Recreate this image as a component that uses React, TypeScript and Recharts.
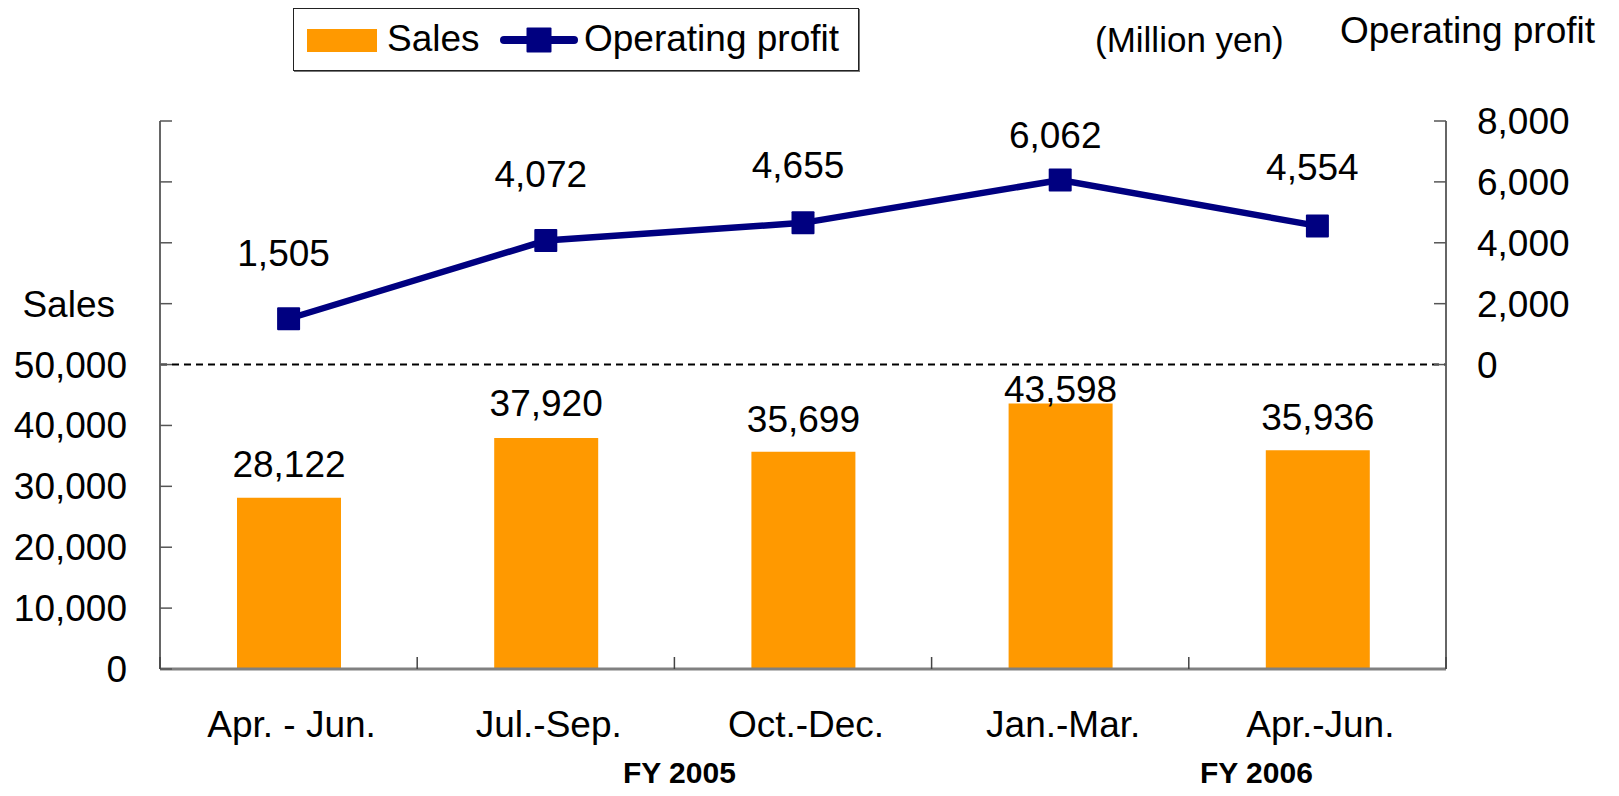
import React from 'react';
import {
  ComposedChart,
  Bar,
  Line,
  XAxis,
  YAxis,
  ReferenceLine,
  LabelList,
  Legend,
  Customized,
} from 'recharts';

// ---- data ----
const quarters = ['Apr. - Jun.', 'Jul.-Sep.', 'Oct.-Dec.', 'Jan.-Mar.', 'Apr.-Jun.'];
const sales = [28122, 37920, 35699, 43598, 35936];
const operatingProfit = [1505, 4072, 4655, 6062, 4554];
const salesTicks = [0, 10000, 20000, 30000, 40000, 50000, 60000, 70000, 80000, 90000];
const profitTicks = [0, 2000, 4000, 6000, 8000];
const fiscalYears = ['FY 2005', 'FY 2006'];

const data = quarters.map((q, i) => ({ quarter: q, sales: sales[i], profit: operatingProfit[i] }));

// ---- style ----
const FONT = '"Liberation Sans", Arial, sans-serif';
const ORANGE = '#FF9900';
const NAVY = '#000080';
const AXIS = '#666666';
const X_TICK_MARGIN = 42;
const salesLabelGap = [21, 22, 20, 2, 20];
const profitLabelGap = [53, 54, 45, 32, 46];

const fmt = (v: number) => v.toLocaleString('en-US');

const LeftTick = (props: any) => {
  const { x, y, payload } = props;
  const v = payload.value as number;
  if (v > 60000) return <g />;
  if (v === 60000) {
    return (
      <text x={x - 12} y={y} dy={13} textAnchor="end" fontSize={37} fill="#000" fontFamily={FONT}>
        Sales
      </text>
    );
  }
  return (
    <text x={x} y={y} dy={13} textAnchor="end" fontSize={37} fill="#000" fontFamily={FONT}>
      {fmt(v)}
    </text>
  );
};

const RightTick = (props: any) => {
  const { x, y, payload } = props;
  return (
    <text x={x} y={y} dy={13} textAnchor="start" fontSize={37} fill="#000" fontFamily={FONT}>
      {fmt(payload.value)}
    </text>
  );
};

const XTick = (props: any) => {
  const { x, y, payload, index, width, visibleTicksCount } = props;
  const half = width / (visibleTicksCount || quarters.length) / 2;
  const axisY = y - X_TICK_MARGIN;
  return (
    <g>
      <line x1={x - half} y1={axisY} x2={x - half} y2={axisY - 12} stroke="#444" strokeWidth={1.5} />
      {index === quarters.length - 1 && (
        <line x1={x + half} y1={axisY} x2={x + half} y2={axisY - 12} stroke="#444" strokeWidth={1.5} />
      )}
      <text x={x + 3} y={y} dy={26} textAnchor="middle" fontSize={37} fill="#000" fontFamily={FONT}>
        {payload.value}
      </text>
      {index === 1 && (
        <text x={x + half + 5} y={y} dy={72} textAnchor="middle" fontSize={30} fontWeight="bold" fill="#000" fontFamily={FONT}>
          {fiscalYears[0]}
        </text>
      )}
      {index === 4 && (
        <text x={x - 61} y={y} dy={72} textAnchor="middle" fontSize={30} fontWeight="bold" fill="#000" fontFamily={FONT}>
          {fiscalYears[1]}
        </text>
      )}
    </g>
  );
};

const SquareDot = (props: any) => {
  const { cx, cy, index } = props;
  if (cx == null || cy == null) return <g key={`d${index}`} />;
  return <rect key={`d${index}`} x={cx - 11.5} y={cy - 11.5} width={23} height={23} fill={NAVY} rx={1} />;
};

const SalesLabel = (props: any) => {
  const { x, y, width, value, index } = props;
  return (
    <text x={x + width / 2} y={y - salesLabelGap[index]} textAnchor="middle" fontSize={37} fill="#000" fontFamily={FONT}>
      {fmt(value)}
    </text>
  );
};

const ProfitLabel = (props: any) => {
  const { x, y, value, index } = props;
  return (
    <text x={x - 5} y={y - profitLabelGap[index]} textAnchor="middle" fontSize={37} fill="#000" fontFamily={FONT}>
      {fmt(value)}
    </text>
  );
};

const LegendBox = () => (
  <div
    style={{
      position: 'relative',
      width: 566,
      height: 63,
      boxSizing: 'border-box',
      border: '1.5px solid #222',
      boxShadow: '1px 1px 0 #777',
      background: '#fff',
      fontFamily: FONT,
      fontSize: 37,
      lineHeight: '37px',
      color: '#000',
    }}
  >
    <div style={{ position: 'absolute', left: 13, top: 20, width: 70, height: 23, background: ORANGE }} />
    <div style={{ position: 'absolute', left: 93, top: 11 }}>Sales</div>
    <svg style={{ position: 'absolute', left: 206, top: 17 }} width={78} height={28}>
      <line x1={4} y1={14} x2={74} y2={14} stroke={NAVY} strokeWidth={8} strokeLinecap="round" />
      <rect x={26.5} y={1.5} width={25} height={25} fill={NAVY} rx={1} />
    </svg>
    <div style={{ position: 'absolute', left: 290, top: 11 }}>Operating profit</div>
  </div>
);

const TopTexts = () => (
  <g fontFamily={FONT} fill="#000">
    <text x={1087} y={44} fontSize={35}>(Million yen)</text>
    <text x={1332} y={35} fontSize={37}>Operating profit</text>
  </g>
);

export default function App() {
  return (
    <div style={{ width: 1603, height: 780, fontFamily: FONT }}>
      <ComposedChart
        width={1603}
        height={780}
        data={data}
        margin={{ top: 113, right: 0, bottom: 0, left: 0 }}
      >
        <XAxis
          dataKey="quarter"
          height={119}
          tickLine={false}
          tickSize={0}
          tickMargin={X_TICK_MARGIN}
          axisLine={{ stroke: '#808080', strokeWidth: 3 }}
          tick={<XTick />}
          interval={0}
        />
        <YAxis
          yAxisId="left"
          orientation="left"
          width={152}
          domain={[0, 90000]}
          ticks={salesTicks}
          interval={0}
          allowDataOverflow
          tickSize={-12}
          tickMargin={45}
          tick={<LeftTick />}
          tickLine={{ stroke: '#555', strokeWidth: 1.5 }}
          axisLine={{ stroke: AXIS, strokeWidth: 2 }}
        />
        <YAxis
          yAxisId="right"
          orientation="right"
          width={165}
          domain={[-10000, 8000]}
          ticks={profitTicks}
          interval={0}
          allowDataOverflow
          tickSize={-12}
          tickMargin={43}
          tick={<RightTick />}
          tickLine={{ stroke: '#555', strokeWidth: 1.5 }}
          axisLine={{ stroke: AXIS, strokeWidth: 2 }}
        />
        <ReferenceLine yAxisId="left" y={50000} stroke="#000" strokeWidth={2} strokeDasharray="7 5" />
        <Bar yAxisId="left" dataKey="sales" fill={ORANGE} barSize={104} isAnimationActive={false}>
          <LabelList dataKey="sales" content={<SalesLabel />} />
        </Bar>
        <Line
          yAxisId="right"
          dataKey="profit"
          stroke={NAVY}
          strokeWidth={6.5}
          dot={<SquareDot />}
          activeDot={false}
          isAnimationActive={false}
        >
          <LabelList dataKey="profit" content={<ProfitLabel />} />
        </Line>
        <Legend
          layout="vertical"
          align="center"
          verticalAlign="middle"
          content={<LegendBox />}
          wrapperStyle={{ position: 'absolute', left: 285, top: 0, width: 566, height: 63 }}
        />
        <Customized component={TopTexts} />
      </ComposedChart>
    </div>
  );
}
